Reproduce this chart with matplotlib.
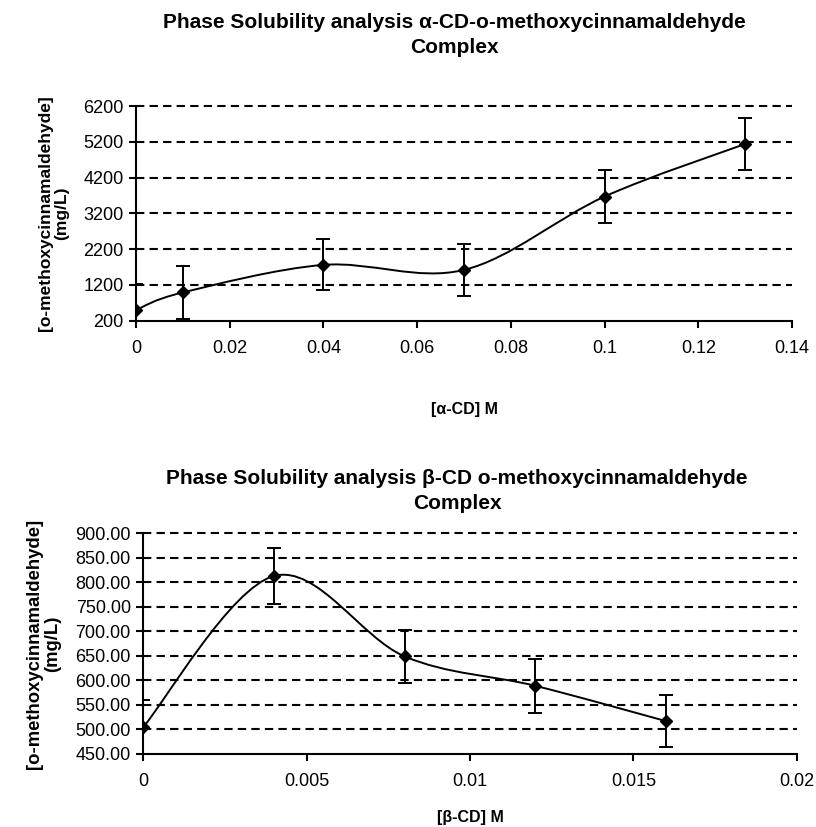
import numpy as np
import matplotlib
matplotlib.use("Agg")
import matplotlib.pyplot as plt
from matplotlib.path import Path
from matplotlib.patches import PathPatch

plt.rcParams['font.family'] = ['Liberation Sans', 'DejaVu Sans']

# ---- data ----
alpha_x = [0.0, 0.01, 0.04, 0.07, 0.10, 0.13]
alpha_y = [500, 990, 1760, 1620, 3670, 5140]
alpha_err = [730, 740, 710, 730, 735, 715]
alpha_yticks = [200, 1200, 2200, 3200, 4200, 5200, 6200]
alpha_xticks = [0, 0.02, 0.04, 0.06, 0.08, 0.1, 0.12, 0.14]
alpha_xlabels = ['0', '0.02', '0.04', '0.06', '0.08', '0.1', '0.12', '0.14']

beta_x = [0.0, 0.004, 0.008, 0.012, 0.016]
beta_y = [505, 813, 649, 589, 517]
beta_err = [56, 57, 54, 55, 53]
beta_yticks = [450, 500, 550, 600, 650, 700, 750, 800, 850, 900]
beta_xticks = [0, 0.005, 0.01, 0.015, 0.02]
beta_xlabels = ['0', '0.005', '0.01', '0.015', '0.02']

title_a = "Phase Solubility analysis α-CD-o-methoxycinnamaldehyde\nComplex"
title_b = "Phase Solubility analysis β-CD o-methoxycinnamaldehyde\nComplex"
ylab = "[o-methoxycinnamaldehyde]\n(mg/L)"


def smooth_path(xs, ys):
    # Excel-style smoothed line: cubic Bezier with Catmull-Rom (1/6) controls
    pts = np.column_stack([xs, ys]).astype(float)
    n = len(pts)
    verts = [pts[0]]
    codes = [Path.MOVETO]
    for i in range(n - 1):
        p0 = pts[i - 1] if i > 0 else pts[i]
        p1 = pts[i]
        p2 = pts[i + 1]
        p3 = pts[i + 2] if i + 2 < n else pts[i + 1]
        c1 = p1 + (p2 - p0) / 6.0
        c2 = p2 - (p3 - p1) / 6.0
        verts += [c1, c2, p2]
        codes += [Path.CURVE4] * 3
    return Path(verts, codes)


def draw(ax, xs, ys, err, xticks, xlabels, yticks, yfmt, xlabel, ylsize, xlpad):
    ax.set_xlim(xticks[0], xticks[-1])
    ax.set_ylim(yticks[0], yticks[-1])
    patch = PathPatch(smooth_path(xs, ys), facecolor='none', edgecolor='black', lw=1.4)
    ax.add_patch(patch)
    ax.errorbar(xs, ys, yerr=err, fmt='D', color='black', ms=6.5, elinewidth=1.4,
                capsize=5, capthick=1.4, zorder=5)
    for yv in yticks[1:]:
        ax.axhline(yv, color='black', lw=1.5, ls=(0, (4, 2.5)), zorder=1, clip_on=False)
    ax.set_xticks(xticks)
    ax.set_xticklabels(xlabels)
    ax.set_yticks(yticks)
    ax.set_yticklabels([yfmt.format(v) for v in yticks])
    for s in ['top', 'right']:
        ax.spines[s].set_visible(False)
    for s in ['left', 'bottom']:
        ax.spines[s].set_linewidth(1.5)
    ax.tick_params(direction='out', length=5, width=1.5, labelsize=13, pad=4)
    ax.tick_params(axis='x', pad=9)
    ax.set_xlabel(xlabel, fontsize=11.5, fontweight='bold', labelpad=xlpad)
    ax.set_ylabel(ylab, fontsize=ylsize, fontweight='bold', labelpad=10, linespacing=1.1)


fig = plt.figure(figsize=(8.16, 8.27), dpi=100)
ax1 = fig.add_axes([0.1667, 0.6122, 0.8039, 0.2596])
ax2 = fig.add_axes([0.1756, 0.0883, 0.8007, 0.2668])

draw(ax1, alpha_x, alpha_y, alpha_err, alpha_xticks, alpha_xlabels, alpha_yticks, "{:d}", "[α-CD] M", 12.5, 32)
draw(ax2, beta_x, beta_y, beta_err, beta_xticks, beta_xlabels, beta_yticks, "{:.2f}", "[β-CD] M", 13.3, 14)

fig.text(0.557, 1 - 35 / 827, title_a, ha='center', va='center', fontsize=15, fontweight='bold', linespacing=1.4)
fig.text(0.560, 1 - 491 / 827, title_b, ha='center', va='center', fontsize=15, fontweight='bold', linespacing=1.4)

fig.savefig("out.png", dpi=100, facecolor='white')
